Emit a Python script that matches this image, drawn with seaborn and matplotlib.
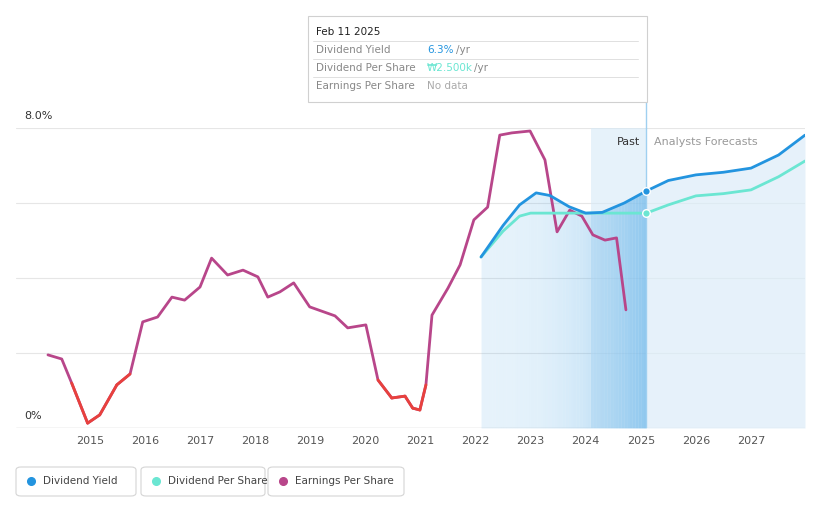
import numpy as np
import pandas as pd
import matplotlib
matplotlib.use("Agg")
import matplotlib.pyplot as plt
import seaborn as sns
from matplotlib.patches import FancyBboxPatch

# ── Data ─────────────────────────────────────────────────────────────────────
yield_t = [2022.1, 2022.5, 2022.8, 2023.1, 2023.35, 2023.7, 2024.0, 2024.3, 2024.7, 2025.1,
           2025.5, 2026.0, 2026.5, 2027.0, 2027.5, 2027.98]
yield_v = [4.56, 5.4, 5.95, 6.27, 6.2, 5.9, 5.73, 5.75, 6.0, 6.32,
           6.6, 6.75, 6.82, 6.93, 7.28, 7.81]
dps_t = [2022.1, 2022.5, 2022.8, 2023.0, 2024.0, 2025.1, 2025.5, 2026.0, 2026.5, 2027.0, 2027.5, 2027.98]
dps_v = [4.56, 5.25, 5.65, 5.73, 5.73, 5.73, 5.95, 6.19, 6.25, 6.35, 6.7, 7.12]
eps_t = [2014.24, 2014.49, 2014.67, 2014.96, 2015.18, 2015.49, 2015.73, 2015.96, 2016.23,
         2016.49, 2016.72, 2017.0, 2017.21, 2017.5, 2017.78, 2018.05, 2018.23, 2018.45,
         2018.7, 2018.99, 2019.45, 2019.68, 2020.01, 2020.23, 2020.48, 2020.72, 2020.86,
         2020.99, 2021.1, 2021.21, 2021.5, 2021.72, 2021.97, 2022.22, 2022.44, 2022.66,
         2022.99, 2023.26, 2023.48, 2023.71, 2023.93, 2024.13, 2024.35, 2024.56, 2024.73]
eps_v = [1.95, 1.84, 1.2, 0.13, 0.35, 1.15, 1.44, 2.83, 2.96, 3.49, 3.41, 3.76, 4.53,
         4.08, 4.21, 4.03, 3.49, 3.63, 3.87, 3.23, 2.99, 2.67, 2.75, 1.28, 0.8, 0.85,
         0.53, 0.48, 1.15, 3.01, 3.73, 4.35, 5.55, 5.89, 7.81, 7.87, 7.92, 7.15, 5.23,
         5.81, 5.65, 5.15, 5.01, 5.07, 3.15]
years = list(range(2015, 2028))
now = 2025.1
past_start = 2024.1

BLUE, TEAL, PURPLE, RED = "#2394df", "#6be6d2", "#b8468a", "#e8413d"

# ── Figure ───────────────────────────────────────────────────────────────────
sns.set_style("white")
plt.rcParams["font.family"] = ["DejaVu Sans"]
fig = plt.figure(figsize=(8.21, 5.08), dpi=100)
ax = fig.add_axes([16/821, 1-428/508, 789/821, 300/508])
ax.set_xlim(2013.66, 2027.98)
ax.set_ylim(0, 8)

for g in [2, 4, 6, 8]:
    ax.axhline(g, color="#e6e6e6", lw=0.8, zorder=0)
ax.axhline(0, color="#cccccc", lw=1, zorder=0)

# past band + fills
ax.axvspan(past_start, now, color="#d6eaf8", alpha=0.6, lw=0, zorder=0)
yt = np.array(yield_t); yv = np.array(yield_v)
xs = np.linspace(2022.1, now, 60)
ys = np.interp(xs, yt, yv)
for i in range(len(xs) - 1):
    a = 0.15 + 0.5 * (i / len(xs)) ** 2.5
    ax.fill_between(xs[i:i+2], 0, ys[i:i+2], color="#5aaee8", alpha=a, lw=0, zorder=1)
fut = yt >= now - 1e-9
ax.fill_between(yt[fut], 0, yv[fut], color="#dcecf8", alpha=0.7, lw=0, zorder=1)
ax.plot([now, now], [0, 8], color="#9fd0f0", lw=1, zorder=2)
ax.plot([now, now], [8, 10.2], color="#9fd0f0", lw=1, zorder=2, clip_on=False)

# EPS, red where earnings dip low
df_eps = pd.DataFrame({"t": eps_t, "v": eps_v})
sns.lineplot(data=df_eps, x="t", y="v", color=PURPLE, lw=2, ax=ax, zorder=3)
low = np.array(eps_v) < 1.5
for i in range(len(eps_t) - 1):
    if low[i] and low[i+1]:
        ax.plot(eps_t[i:i+2], eps_v[i:i+2], color=RED, lw=2, zorder=4, solid_capstyle="round")

sns.lineplot(x=dps_t, y=dps_v, color=TEAL, lw=2, ax=ax, zorder=5)
sns.lineplot(x=yield_t, y=yield_v, color=BLUE, lw=2, ax=ax, zorder=6)
ax.scatter([now], [np.interp(now, dps_t, dps_v)], s=30, color=TEAL, edgecolor="white", lw=1, zorder=7)
ax.scatter([now], [np.interp(now, yield_t, yield_v)], s=30, color=BLUE, edgecolor="white", lw=1, zorder=7)

ax.text(now - 0.12, 7.55, "Past", ha="right", fontsize=8, color="#333333")
ax.text(now + 0.14, 7.55, "Analysts Forecasts", ha="left", fontsize=8, color="#999999")

ax.set_xticks(years)
ax.set_xticklabels([str(y) for y in years], fontsize=8, color="#555555")
ax.tick_params(axis="x", length=0, pad=6)
ax.set_yticks([])
ax.set_xlabel(""); ax.set_ylabel("")
for s in ax.spines.values():
    s.set_visible(False)
fig.text(24/821, 1-116/508, "8.0%", fontsize=8, color="#333333", va="center")
fig.text(24/821, 1-416/508, "0%", fontsize=8, color="#333333", va="center")

# tooltip
tip = FancyBboxPatch((308/821, 1-102/508), 339/821, 86/508, boxstyle="square,pad=0",
                     transform=fig.transFigure, facecolor="white", edgecolor="#d0d0d0", lw=0.8)
fig.patches.append(tip)
fig.text(316/821, 1-32/508, "Feb 11 2025", fontsize=7.5, color="#222222", va="center")
rows = [("Dividend Yield", "6.3%", BLUE, 456), ("Dividend Per Share", "₩2.500k", TEAL, 474),
        ("Earnings Per Share", "No data", "#aaaaaa", None)]
for i, (lab, val, c, ux) in enumerate(rows):
    y = 50 + i * 18
    fig.text(316/821, 1-y/508, lab, fontsize=7.5, color="#888888", va="center")
    fig.text(427/821, 1-y/508, val, fontsize=7.5, color=c, va="center")
    if ux:
        fig.text(ux/821, 1-y/508, "/yr", fontsize=7.5, color="#888888", va="center")
    fig.add_artist(plt.Line2D([313/821, 638/821], [1-(y-9)/508]*2, color="#e0e0e0", lw=0.7))

# legend buttons
items = [("Dividend Yield", BLUE, 16, 120), ("Dividend Per Share", TEAL, 141, 124),
         ("Earnings Per Share", PURPLE, 268, 136)]
for lab, c, x0, w in items:
    fig.patches.append(FancyBboxPatch((x0/821, 1-496/508), w/821, 29/508,
                                      boxstyle="round,pad=0,rounding_size=0.006",
                                      transform=fig.transFigure, facecolor="white",
                                      edgecolor="#d5d5d5", lw=0.8))
    fig.add_artist(plt.Line2D([(x0+15)/821], [1-481/508], marker="o", markersize=5.5,
                              color=c, transform=fig.transFigure))
    fig.text((x0+27)/821, 1-481/508, lab, fontsize=7.5, color="#444444", va="center")

fig.savefig("out.png", dpi=100)
